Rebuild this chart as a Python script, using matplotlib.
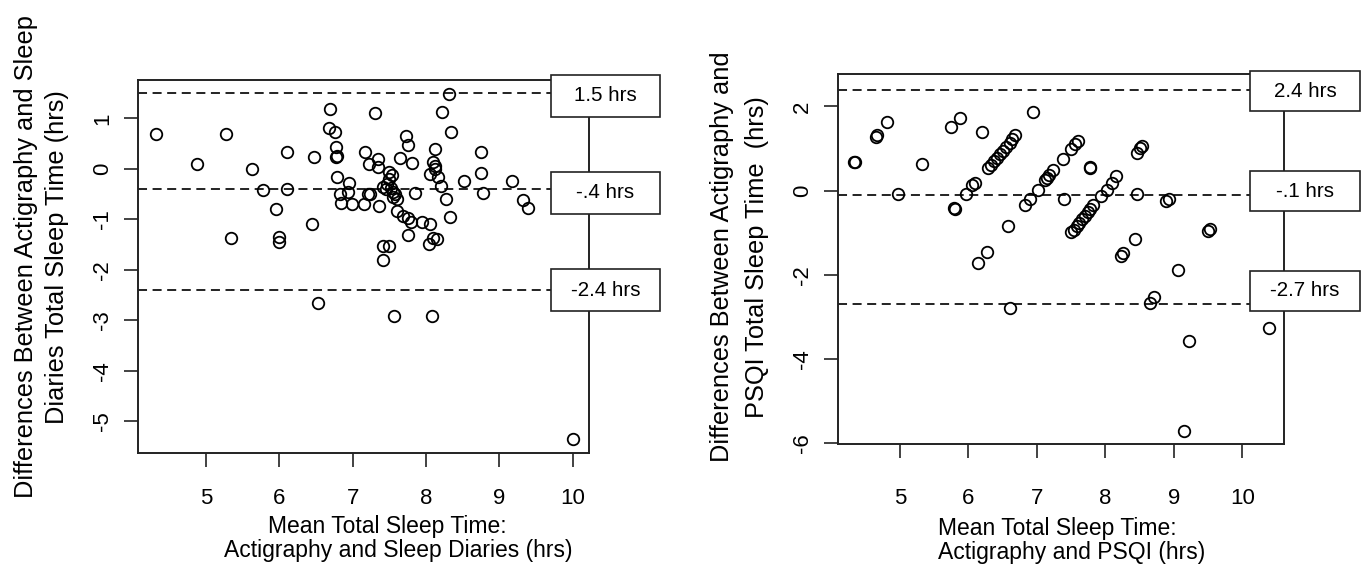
"""Bland-Altman plots: actigraphy vs sleep diaries and vs PSQI."""

import matplotlib

matplotlib.use("Agg")
import matplotlib.pyplot as plt
from matplotlib.patches import Rectangle

plt.rcParams["font.family"] = ["Liberation Sans", "DejaVu Sans"]
plt.rcParams["lines.scale_dashes"] = False

# ---- data ----
diary_mean = [
    4.31, 5.27, 4.87, 5.63, 6.10, 5.78, 6.11, 5.95, 6.45, 5.34, 6.00, 6.00,
    6.47, 6.69, 6.67, 6.76, 6.77, 6.77, 6.79, 6.78, 6.82, 6.84, 6.95, 6.94,
    6.99, 7.15, 7.17, 7.22, 7.21, 7.24, 7.31, 7.34, 7.35, 7.36, 8.32, 8.22,
    8.34, 7.73, 7.76, 8.13, 8.75, 8.75, 8.52, 9.17, 8.78, 9.33, 9.39, 7.65,
    7.81, 8.10, 8.12, 8.13, 8.06, 8.17, 8.21, 8.28, 8.33, 7.85, 7.50, 7.53,
    7.50, 7.47, 7.52, 7.55, 7.58, 7.55, 7.60, 7.45, 7.42, 7.60, 7.69, 7.75,
    7.80, 7.94, 8.06, 7.76, 8.10, 8.15, 6.53, 7.42, 7.49, 7.41, 7.56, 8.08,
    8.04, 10.00,
]
diary_diff = [
    0.70, 0.69, 0.09, -0.01, 0.33, -0.42, -0.40, -0.79, -1.09, -1.37, -1.34, -1.44,
    0.23, 1.18, 0.82, 0.73, 0.44, 0.24, 0.26, -0.16, -0.50, -0.67, -0.27, -0.45,
    -0.69, -0.69, 0.33, 0.10, -0.50, -0.50, 1.10, 0.20, 0.03, -0.73, 1.48, 1.13,
    0.74, 0.65, 0.47, 0.39, 0.33, -0.07, -0.23, -0.23, -0.47, -0.61, -0.77, 0.21,
    0.12, 0.14, 0.06, 0.00, -0.09, -0.15, -0.33, -0.60, -0.96, -0.48, -0.05, -0.12,
    -0.20, -0.30, -0.38, -0.45, -0.50, -0.55, -0.60, -0.40, -0.35, -0.83, -0.94, -0.98,
    -1.05, -1.04, -1.08, -1.31, -1.36, -1.38, -2.65, -1.52, -1.52, -1.80, -2.92, -2.92,
    -1.49, -5.35,
]
diary_limits = [1.5, -0.4, -2.4]
diary_labels = ["1.5 hrs", "-.4 hrs", "-2.4 hrs"]

psqi_mean = [
    4.33, 4.34, 4.65, 4.67, 4.81, 4.97, 5.32, 5.75, 5.87, 5.79, 5.80, 5.96,
    6.05, 6.09, 6.20, 6.14, 6.27, 6.57, 6.29, 6.33, 6.37, 6.41, 6.46, 6.50,
    6.55, 6.60, 6.64, 6.68, 6.94, 6.82, 6.90, 7.02, 7.12, 7.15, 7.18, 7.23,
    7.38, 7.49, 7.55, 7.60, 7.39, 7.77, 7.78, 7.50, 7.54, 7.58, 7.62, 7.66,
    7.70, 7.74, 7.78, 7.82, 7.94, 8.02, 8.09, 8.16, 8.46, 8.46, 8.50, 8.54,
    8.88, 8.92, 8.43, 8.22, 8.26, 9.06, 8.71, 8.65, 6.61, 9.22, 9.15, 9.50,
    9.53, 10.38,
]
psqi_diff = [
    0.67, 0.68, 1.28, 1.33, 1.64, -0.07, 0.64, 1.52, 1.73, -0.41, -0.43, -0.07,
    0.13, 0.17, 1.40, -1.71, -1.47, -0.85, 0.54, 0.62, 0.70, 0.78, 0.87, 0.95,
    1.04, 1.12, 1.22, 1.31, 1.87, -0.35, -0.21, 0.01, 0.24, 0.30, 0.36, 0.50,
    0.76, 0.98, 1.10, 1.17, -0.21, 0.54, 0.56, -0.99, -0.93, -0.85, -0.77, -0.68,
    -0.60, -0.52, -0.43, -0.35, -0.13, 0.02, 0.18, 0.34, -0.07, 0.90, 1.02, 1.07,
    -0.25, -0.19, -1.14, -1.56, -1.48, -1.88, -2.52, -2.67, -2.79, -3.57, -5.71, -0.97,
    -0.91, -3.27,
]
psqi_limits = [2.4, -0.1, -2.7]
psqi_labels = ["2.4 hrs", "-.1 hrs", "-2.7 hrs"]

x_ticks = [5, 6, 7, 8, 9, 10]
diary_yticks = [1, 0, -1, -2, -3, -4, -5]
psqi_yticks = [2, 0, -2, -4, -6]

INK = "#222222"
W, H = 1365, 566


def px_rect(left, top, right, bottom):
    return [left / W, 1 - bottom / H, (right - left) / W, (bottom - top) / H]


def draw_panel(ax, xs, ys, limits, labels, box_x, box_y, box_h, yticks, xpad):
    for y in limits:
        ax.axhline(y, color=INK, lw=1.4, dashes=(6.5, 4.0), zorder=1)
    ax.plot(xs, ys, "o", mfc="none", mec="black", ms=8.3, mew=1.3, zorder=2)
    for yc, lab in zip(box_y, labels):
        ax.add_patch(Rectangle((box_x[0], yc - box_h / 2), box_x[1] - box_x[0], box_h,
                               facecolor="white", edgecolor=INK, lw=1.2,
                               clip_on=False, zorder=5))
        ax.text((box_x[0] + box_x[1]) / 2, yc, lab, ha="center", va="center",
                fontsize=14.8, color="black", zorder=6, clip_on=False)
    ax.set_xticks(x_ticks)
    ax.set_xticklabels([str(t) for t in x_ticks])
    ax.set_yticks(yticks)
    ax.set_yticklabels([str(t) for t in yticks], rotation=90, va="center")
    ax.tick_params(axis="x", length=10, width=1.2, color=INK, labelsize=16, pad=xpad)
    ax.tick_params(axis="y", length=10, width=1.2, color=INK, labelsize=16, pad=8)
    for sp in ax.spines.values():
        sp.set_linewidth(1.4)
        sp.set_color(INK)


fig = plt.figure(figsize=(W / 100, H / 100), dpi=100)

ax1 = fig.add_axes(px_rect(138, 80, 589, 453))
ax1.set_xlim(4.07, 10.225)
ax1.set_ylim(-5.624, 1.762)
draw_panel(ax1, diary_mean, diary_diff, diary_limits, diary_labels,
           (9.71, 11.19), (1.45, -0.47, -2.40), 0.83, diary_yticks, 15)

ax2 = fig.add_axes(px_rect(838, 74, 1284, 444))
ax2.set_xlim(4.095, 10.606)
ax2.set_ylim(-6.02, 2.77)
draw_panel(ax2, psqi_mean, psqi_diff, psqi_limits, psqi_labels,
           (10.11, 11.72), (2.36, -0.01, -2.38), 0.95, psqi_yticks, 22)

# axis titles placed where the reference has them
yfs = 18.3
xfs = 16.5
fig.text(26 / W, 1 - 257 / H, "Differences Between Actigraphy and Sleep",
         rotation=90, ha="center", va="center", fontsize=yfs)
fig.text(57 / W, 1 - 257 / H, "Diaries Total Sleep Time (hrs)",
         rotation=90, ha="center", va="center", fontsize=yfs)
fig.text(722 / W, 1 - 257 / H, "Differences Between Actigraphy and",
         rotation=90, ha="center", va="center", fontsize=yfs)
fig.text(757 / W, 1 - 257 / H, "PSQI Total Sleep Time  (hrs)",
         rotation=90, ha="center", va="center", fontsize=yfs)

fig.text(387 / W, 1 - 526 / H, "Mean Total Sleep Time:", ha="center", va="center", fontsize=xfs)
fig.text(398 / W, 1 - 551 / H, "Actigraphy and Sleep Diaries (hrs)", ha="center", va="center", fontsize=xfs)
fig.text(1057 / W, 1 - 528 / H, "Mean Total Sleep Time:", ha="center", va="center", fontsize=xfs)
fig.text(1072 / W, 1 - 553 / H, "Actigraphy and PSQI (hrs)", ha="center", va="center", fontsize=xfs)

fig.savefig("out.png", dpi=100, facecolor="white")
